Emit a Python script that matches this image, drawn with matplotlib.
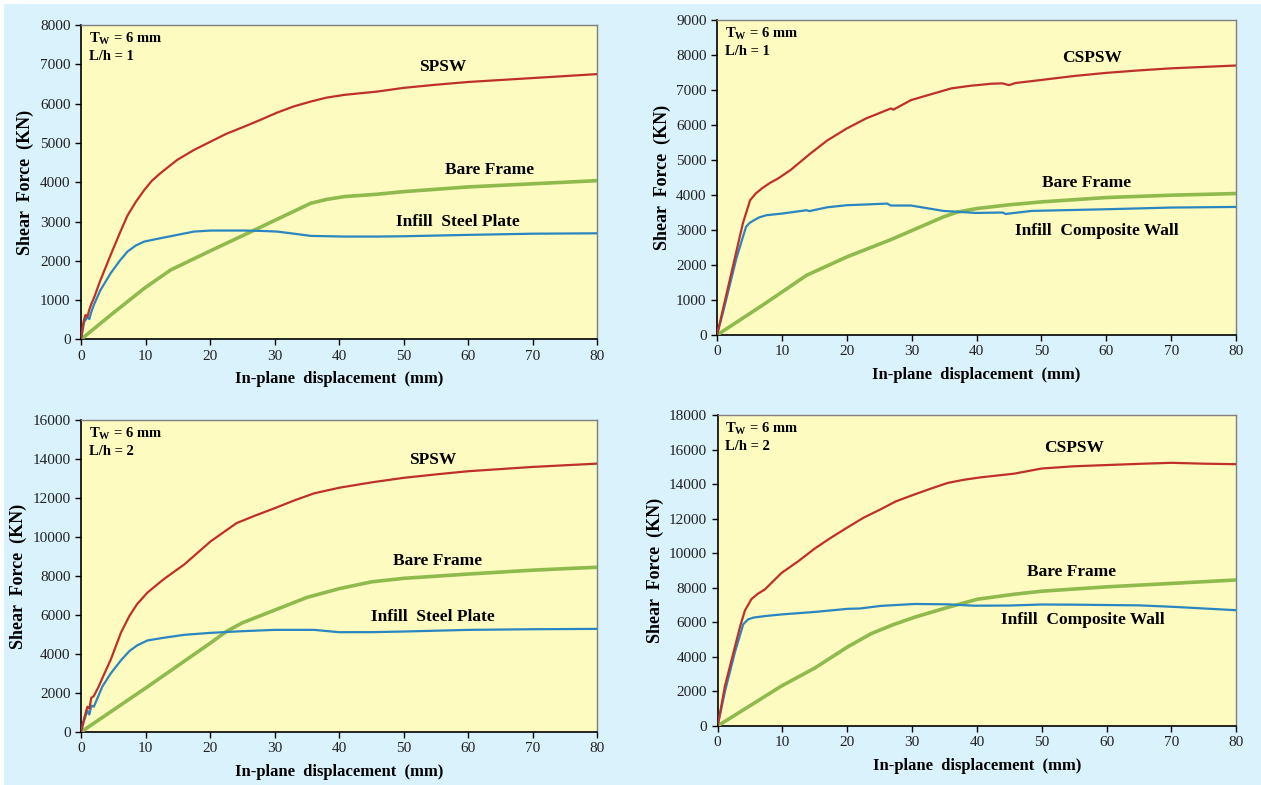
import matplotlib
matplotlib.use("Agg")
import matplotlib.pyplot as plt
from matplotlib.patches import Rectangle

plt.rcParams["font.family"] = ["Liberation Serif", "DejaVu Serif"]
plt.rcParams["mathtext.fontset"] = "custom"
plt.rcParams["mathtext.rm"] = "Liberation Serif:bold"
plt.rcParams["mathtext.it"] = "Liberation Serif:bold"
plt.rcParams["mathtext.bf"] = "Liberation Serif:bold"

RED = "#c0302a"
BLUE = "#2a86c0"
GREEN = "#8fba4e"
BG = "#d9f2fc"
PLOT_BG = "#fdfbc0"

# ---- top left: SPSW, L/h = 1
tl_spsw_x = [0, 0.4, 0.7, 1.0, 1.3, 1.6, 2.0, 3.0, 4.6, 6.0, 7.2, 8.5, 9.8, 11.0, 12.3, 14.9, 17.5, 20.1, 22.5, 25.3, 28.0, 30.4, 33.0, 35.6, 38.0, 40.8, 45.9, 50, 55, 60, 65, 70, 75, 80]
tl_spsw_y = [0, 450, 620, 580, 760, 900, 1050, 1500, 2150, 2700, 3150, 3500, 3800, 4040, 4228, 4567, 4820, 5034, 5230, 5415, 5600, 5772, 5930, 6052, 6150, 6222, 6306, 6400, 6480, 6550, 6600, 6650, 6700, 6750]
tl_bare_x = [0, 4.6, 9.8, 13.9, 20, 26.8, 35.6, 38.0, 40.8, 45.9, 50, 60, 70, 80]
tl_bare_y = [0, 620, 1300, 1768, 2250, 2777, 3465, 3560, 3634, 3694, 3760, 3880, 3960, 4040]
tl_inf_x = [0, 0.5, 1.0, 1.3, 1.6, 2.0, 3.0, 4.6, 6.0, 7.2, 8.5, 9.8, 12.3, 14.9, 17.5, 20.1, 25.3, 28.0, 30.4, 33.0, 35.6, 40.8, 45.9, 50, 60, 70, 80]
tl_inf_y = [0, 450, 560, 520, 700, 880, 1250, 1684, 2000, 2235, 2390, 2490, 2574, 2659, 2744, 2770, 2770, 2760, 2744, 2690, 2634, 2617, 2617, 2625, 2660, 2690, 2700]

# ---- top right: CSPSW, L/h = 1
tr_cspsw_x = [0, 1, 2, 3, 4, 5.1, 6.0, 7.0, 8.2, 9.4, 11.3, 14.4, 17.0, 20.0, 23.0, 26.8, 27.2, 29.9, 33.0, 36.1, 39.0, 42.3, 44.0, 45.0, 46.0, 49.8, 55, 60, 65, 70, 75, 80]
tr_cspsw_y = [0, 800, 1600, 2400, 3200, 3851, 4050, 4200, 4350, 4471, 4709, 5186, 5560, 5901, 6190, 6473, 6440, 6712, 6880, 7046, 7120, 7180, 7190, 7140, 7200, 7283, 7400, 7490, 7560, 7620, 7660, 7700]
tr_bare_x = [0, 7, 13.8, 20, 26.8, 34.9, 37.0, 40, 45, 50, 60, 70, 80]
tr_bare_y = [0, 850, 1706, 2231, 2726, 3375, 3510, 3613, 3720, 3804, 3928, 3995, 4042]
tr_inf_x = [0, 1, 2, 3, 4.47, 5.0, 5.7, 6.5, 7.6, 10, 13.8, 14.2, 17, 20, 23, 26.2, 26.8, 29.9, 32.5, 34.9, 39.9, 44.0, 44.5, 48.5, 60, 70, 80]
tr_inf_y = [0, 700, 1450, 2200, 3089, 3200, 3280, 3360, 3423, 3470, 3566, 3540, 3650, 3709, 3730, 3756, 3700, 3700, 3620, 3546, 3489, 3500, 3460, 3546, 3594, 3642, 3660]

# ---- bottom left: SPSW, L/h = 2
bl_spsw_x = [0, 0.5, 1.0, 1.3, 1.6, 2.0, 2.7, 3.5, 4.6, 5.4, 6.2, 7.5, 8.7, 10.3, 12.8, 16.0, 20.1, 24.1, 27.0, 30.0, 33.0, 36.1, 40, 45, 50, 55, 60, 70, 80]
bl_spsw_y = [0, 700, 1300, 1200, 1750, 1850, 2300, 2900, 3700, 4400, 5100, 5950, 6559, 7152, 7830, 8593, 9780, 10712, 11100, 11475, 11870, 12237, 12525, 12800, 13034, 13210, 13373, 13593, 13763]
bl_bare_x = [0, 10, 20, 22.5, 25, 30, 35, 40, 45, 50, 60, 70, 80]
bl_bare_y = [0, 2250, 4550, 5150, 5600, 6250, 6900, 7350, 7700, 7880, 8100, 8300, 8450]
bl_inf_x = [0, 0.5, 1.0, 1.3, 1.6, 2.0, 3.3, 4.6, 6.2, 7.5, 8.7, 10.3, 12.8, 16.0, 20.1, 25, 30, 36.1, 40, 45, 50, 60, 70, 80]
bl_inf_y = [0, 600, 1100, 900, 1350, 1300, 2322, 3000, 3678, 4150, 4441, 4695, 4831, 4983, 5085, 5170, 5237, 5237, 5119, 5120, 5153, 5237, 5270, 5288]

# ---- bottom right: CSPSW, L/h = 2
br_cspsw_x = [0, 1.13, 2.67, 3.5, 4.2, 5.2, 6.2, 7.3, 9.85, 12.5, 15, 17.5, 20.1, 22.5, 25.2, 27.5, 30.4, 33, 35.5, 38, 40.6, 45.7, 50, 55, 60, 65, 70, 75, 80]
br_cspsw_y = [0, 2313, 4588, 5800, 6673, 7336, 7650, 7905, 8853, 9550, 10275, 10900, 11507, 12050, 12550, 13000, 13403, 13750, 14066, 14250, 14389, 14600, 14900, 15030, 15100, 15170, 15230, 15180, 15150]
br_bare_x = [0, 9.85, 15, 20.1, 23.7, 27, 30.4, 35.5, 40.1, 45.7, 50, 60, 70, 80]
br_bare_y = [0, 2313, 3355, 4588, 5346, 5850, 6294, 6863, 7336, 7621, 7800, 8050, 8250, 8450]
br_inf_x = [0, 1.13, 2.67, 3.95, 4.7, 5.5, 7.3, 9.85, 15, 20.1, 22, 25.2, 30.4, 35.5, 39.6, 45, 50, 55, 60, 65, 70, 75, 80]
br_inf_y = [0, 2000, 4275, 5886, 6170, 6270, 6360, 6455, 6600, 6780, 6800, 6950, 7060, 7040, 6960, 6970, 7030, 7020, 7000, 6980, 6900, 6800, 6700]

x_ticks = [0, 10, 20, 30, 40, 50, 60, 70, 80]

panels = [
    dict(rect=[0.0642, 0.5676, 0.4096, 0.4006], ymax=8000, ystep=1000, lh="1",
         wall=(tl_spsw_x, tl_spsw_y), bare=(tl_bare_x, tl_bare_y), inf=(tl_inf_x, tl_inf_y),
         wall_lbl=("SPSW", 56.1, 6933), bare_lbl=("Bare Frame", 63.3, 4317),
         inf_lbl=("Infill  Steel Plate", 58.4, 2997)),
    dict(rect=[0.5686, 0.5732, 0.4116, 0.4013], ymax=9000, ystep=1000, lh="1",
         wall=(tr_cspsw_x, tr_cspsw_y), bare=(tr_bare_x, tr_bare_y), inf=(tr_inf_x, tr_inf_y),
         wall_lbl=("CSPSW", 57.8, 7914), bare_lbl=("Bare Frame", 57.0, 4343),
         inf_lbl=("Infill  Composite Wall", 58.6, 2971)),
    dict(rect=[0.0642, 0.0675, 0.4096, 0.3975], ymax=16000, ystep=2000, lh="2",
         wall=(bl_spsw_x, bl_spsw_y), bare=(bl_bare_x, bl_bare_y), inf=(bl_inf_x, bl_inf_y),
         wall_lbl=("SPSW", 54.5, 13949), bare_lbl=("Bare Frame", 55.3, 8769),
         inf_lbl=("Infill  Steel Plate", 54.5, 5897)),
    dict(rect=[0.5691, 0.0752, 0.4112, 0.3962], ymax=18000, ystep=2000, lh="2",
         wall=(br_cspsw_x, br_cspsw_y), bare=(br_bare_x, br_bare_y), inf=(br_inf_x, br_inf_y),
         wall_lbl=("CSPSW", 55.0, 16096), bare_lbl=("Bare Frame", 54.6, 8885),
         inf_lbl=("Infill  Composite Wall", 56.4, 6115)),
]

fig = plt.figure(figsize=(12.61, 7.85), dpi=100, facecolor="white")
fig.patches.append(Rectangle((4 / 1261, 0), 1, 1 - 4 / 785, transform=fig.transFigure,
                             facecolor=BG, edgecolor="none", zorder=-10))

for p in panels:
    ax = fig.add_axes(p["rect"])
    ax.set_facecolor(PLOT_BG)
    ax.plot(*p["bare"], color=GREEN, lw=2.6, solid_capstyle="round", solid_joinstyle="round", zorder=3)
    ax.plot(*p["inf"], color=BLUE, lw=1.6, solid_joinstyle="round", zorder=4)
    ax.plot(*p["wall"], color=RED, lw=1.6, solid_joinstyle="round", zorder=5)

    ax.set_xlim(0, 80)
    ax.set_ylim(0, p["ymax"])
    ax.set_xticks(x_ticks)
    ax.set_yticks(range(0, p["ymax"] + 1, p["ystep"]))
    ax.tick_params(direction="out", length=4, width=1, labelsize=11,
                   labelcolor="#222222", top=False, right=False)
    for side in ("left", "bottom"):
        ax.spines[side].set_color("black")
        ax.spines[side].set_linewidth(1.2)
    for side in ("top", "right"):
        ax.spines[side].set_color("#808080")
        ax.spines[side].set_linewidth(1.0)

    ax.set_xlabel("In-plane  displacement  (mm)", fontsize=12, fontweight="bold", labelpad=6)
    ax.set_ylabel("Shear  Force  (KN)", fontsize=13, fontweight="bold", labelpad=4)

    for txt, xv, yv in (p["wall_lbl"], p["bare_lbl"], p["inf_lbl"]):
        ax.text(xv, yv, txt, fontsize=12.5, fontweight="bold", ha="center", va="center", zorder=6)

    ax.text(0.015, 0.955, r"T$_\mathrm{W}$ = 6 mm", transform=ax.transAxes,
            fontsize=10.5, fontweight="bold", ha="left", va="center")
    ax.text(0.015, 0.9, "L/h = " + p["lh"], transform=ax.transAxes,
            fontsize=10.5, fontweight="bold", ha="left", va="center")

fig.savefig("out.png", dpi=100, facecolor=fig.get_facecolor())
